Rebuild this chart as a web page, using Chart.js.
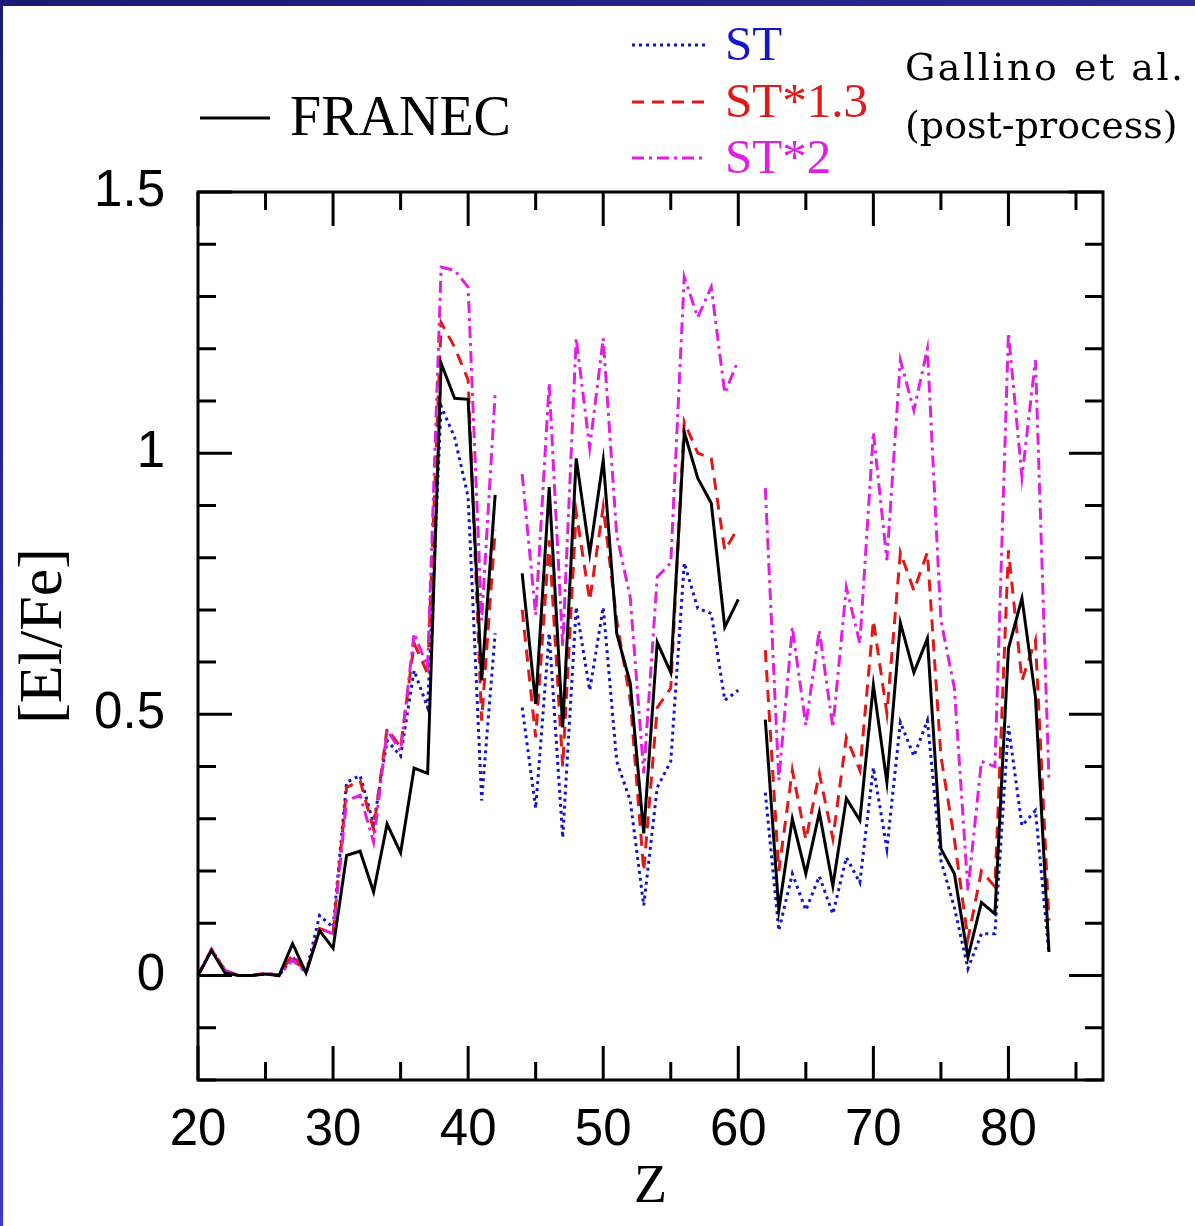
<!DOCTYPE html>
<html>
<head>
<meta charset="utf-8">
<script src="https://cdn.jsdelivr.net/npm/chart.js@4/dist/chart.umd.min.js"></script>
<style>
  html, body { margin: 0; padding: 0; background: #ffffff; }
  #wrap { position: relative; width: 1195px; height: 1226px; overflow: hidden; background: #fff; }
  #topbar { position: absolute; left: 0; top: 0; width: 1195px; height: 6px; background: linear-gradient(90deg, #1b1a72, #2a2a96); }
  #leftbar { position: absolute; left: 0; top: 0; width: 3px; height: 1226px; background: linear-gradient(180deg, #1b1a72, #3a38d6); }
  canvas { position: absolute; left: 0; top: 0; }
</style>
</head>
<body>
<div id="wrap">
  <canvas id="c" width="1195" height="1226"></canvas>
  <div id="topbar"></div>
  <div id="leftbar"></div>
</div>
<script>
// ---- data ----
const Z = [20,21,22,23,24,25,26,27,28,29,30,31,32,33,34,35,36,37,38,39,40,41,42,43,44,45,46,47,48,49,50,51,52,53,54,55,56,57,58,59,60,61,62,63,64,65,66,67,68,69,70,71,72,73,74,75,76,77,78,79,80,81,82,83];

const franec = [0,0.048,0.005,0,0,0.003,0,0.061,0.005,0.086,0.052,0.23,0.238,0.16,0.29,0.235,0.397,0.387,1.172,1.105,1.103,0.565,0.92,null,
  0.77,0.52,0.935,0.475,0.99,0.808,0.987,0.655,0.56,0.272,0.638,0.58,1.04,0.952,0.904,0.667,0.72,null,
  0.49,0.125,0.30,0.195,0.312,0.172,0.339,0.297,0.556,0.37,0.675,0.58,0.645,0.243,0.195,0.035,0.14,0.118,0.626,0.722,0.533,0.045];

const st = [0,0.05,0.01,0,0,0.003,0,0.035,0.005,0.115,0.092,0.37,0.383,0.29,0.45,0.42,0.584,0.513,1.09,1.03,0.916,0.335,0.655,null,
  0.513,0.32,0.655,0.264,0.705,0.546,0.705,0.41,0.335,0.134,0.36,0.41,0.79,0.703,0.693,0.527,0.546,null,
  0.35,0.086,0.195,0.125,0.19,0.118,0.226,0.178,0.398,0.243,0.485,0.42,0.488,0.22,0.13,0.013,0.08,0.08,0.478,0.287,0.316,0.042];

const st13 = [0,0.05,0.01,0,0,0.005,0,0.04,0.005,0.09,0.08,0.36,0.373,0.28,0.473,0.437,0.636,0.578,1.25,1.203,1.14,0.488,0.853,null,
  0.70,0.456,0.833,0.40,0.887,0.718,0.897,0.68,0.527,0.20,0.513,0.55,1.06,1.0,0.99,0.814,0.858,null,
  0.623,0.2,0.393,0.26,0.387,0.262,0.456,0.393,0.68,0.502,0.81,0.737,0.81,0.42,0.26,0.07,0.2,0.17,0.814,0.565,0.642,0.105];

const st2 = [0,0.05,0.01,0,0,0.005,0,0.03,0.005,0.09,0.08,0.335,0.345,0.255,0.47,0.43,0.655,0.59,1.356,1.35,1.318,0.68,1.115,null,
  0.96,0.69,1.134,0.63,1.22,1.01,1.22,0.843,0.724,0.387,0.763,0.79,1.337,1.26,1.318,1.115,1.178,null,
  0.933,0.374,0.667,0.479,0.661,0.475,0.743,0.636,1.04,0.795,1.178,1.082,1.2,0.68,0.55,0.163,0.41,0.40,1.23,0.954,1.178,0.374];

const xTickLabels = [20,30,40,50,60,70,80];
const yTickLabels = [0,0.5,1,1.5];

function pts(arr) { return Z.map((z, i) => ({ x: z, y: arr[i] })); }

// ---- plugin: frame, inward ticks, legend ----
const framePlugin = {
  id: 'frame',
  afterDatasetsDraw(chart) {
    const { ctx, chartArea: a, scales } = chart;
    const xs = scales.x, ys = scales.y;
    ctx.save();
    ctx.strokeStyle = '#000';
    ctx.lineWidth = 3;
    ctx.lineCap = 'butt';
    ctx.strokeRect(a.left, a.top, a.right - a.left, a.bottom - a.top);
    ctx.beginPath();
    for (let v = 20; v <= 85; v += 5) {
      const px = xs.getPixelForValue(v);
      const len = (v % 10 === 0) ? 34 : 18;
      ctx.moveTo(px, a.bottom); ctx.lineTo(px, a.bottom - len);
      ctx.moveTo(px, a.top); ctx.lineTo(px, a.top + len);
    }
    for (let k = -2; k <= 15; k++) {
      const v = k / 10;
      const py = ys.getPixelForValue(v);
      const len = (k % 5 === 0) ? 34 : 18;
      ctx.moveTo(a.left, py); ctx.lineTo(a.left + len, py);
      ctx.moveTo(a.right, py); ctx.lineTo(a.right - len, py);
    }
    ctx.stroke();
    ctx.restore();
  },
  afterDraw(chart) {
    const ctx = chart.ctx;
    ctx.save();
    ctx.textBaseline = 'middle';
    ctx.textAlign = 'left';
    // FRANEC
    ctx.strokeStyle = '#000'; ctx.lineWidth = 3; ctx.setLineDash([]);
    ctx.beginPath(); ctx.moveTo(200, 118); ctx.lineTo(270, 118); ctx.stroke();
    ctx.fillStyle = '#000';
    ctx.font = '56px "Liberation Serif"';
    ctx.fillText('FRANEC', 290, 120);
    // ST series
    const items = [
      { t: 'ST', c: '#1414c8', d: [3, 4], y: 45 },
      { t: 'ST*1.3', c: '#e01818', d: [12, 8], y: 102 },
      { t: 'ST*2', c: '#e020e0', d: [12, 5, 3, 5], y: 158 }
    ];
    ctx.font = '49px "Liberation Serif"';
    items.forEach(it => {
      ctx.strokeStyle = it.c; ctx.lineWidth = 3; ctx.setLineDash(it.d);
      ctx.beginPath(); ctx.moveTo(632, it.y); ctx.lineTo(705, it.y); ctx.stroke();
      ctx.fillStyle = it.c;
      ctx.fillText(it.t, 725, it.y + 2);
    });
    ctx.setLineDash([]);
    ctx.fillStyle = '#000';
    ctx.font = '38px "DejaVu Serif"';
    if ('letterSpacing' in ctx) ctx.letterSpacing = '2.5px';
    ctx.fillText('Gallino et al.', 905, 70);
    if ('letterSpacing' in ctx) ctx.letterSpacing = '0px';
    ctx.fillText('(post-process)', 905, 128);
    ctx.restore();
  }
};

const ctx = document.getElementById('c').getContext('2d');
new Chart(ctx, {
  type: 'line',
  data: {
    datasets: [
      { label: 'FRANEC', data: pts(franec), borderColor: '#000000', borderWidth: 3, pointRadius: 0, spanGaps: false, order: 0 },
      { label: 'ST', data: pts(st), borderColor: '#1414c8', borderWidth: 3, borderDash: [3, 4], pointRadius: 0, spanGaps: false, order: 3 },
      { label: 'ST*1.3', data: pts(st13), borderColor: '#e01818', borderWidth: 3, borderDash: [12, 8], pointRadius: 0, spanGaps: false, order: 2 },
      { label: 'ST*2', data: pts(st2), borderColor: '#e020e0', borderWidth: 3, borderDash: [12, 5, 3, 5], pointRadius: 0, spanGaps: false, order: 1 }
    ]
  },
  options: {
    responsive: false,
    animation: false,
    devicePixelRatio: 1,
    layout: { padding: { top: 192, right: 92, left: 0, bottom: 0 } },
    plugins: { legend: { display: false }, tooltip: { enabled: false } },
    elements: { line: { tension: 0, fill: false }, point: { radius: 0 } },
    scales: {
      x: {
        type: 'linear', min: 20, max: 87,
        grid: { display: false }, border: { display: false },
        ticks: {
          stepSize: 5, autoSkip: false, maxRotation: 0, padding: 12, color: '#000',
          font: { family: 'Liberation Sans', size: 51 },
          callback: v => xTickLabels.includes(Math.round(v)) && Math.abs(v - Math.round(v)) < 1e-6 ? String(Math.round(v)) : ''
        },
        title: { display: true, text: 'Z', color: '#000', font: { family: 'Liberation Serif', size: 54 }, padding: { top: 0, bottom: 6 } },
        afterFit: s => { s.height = 146; }
      },
      y: {
        type: 'linear', min: -0.2, max: 1.5,
        grid: { display: false }, border: { display: false },
        ticks: {
          stepSize: 0.1, autoSkip: false, padding: 25, color: '#000',
          font: { family: 'Liberation Sans', size: 51 },
          callback: v => {
            const r = Math.round(v * 10) / 10;
            const hit = yTickLabels.find(t => Math.abs(t - r) < 1e-6);
            return hit !== undefined ? String(hit) : '';
          }
        },
        title: { display: true, text: '[El/Fe]', color: '#000', font: { family: 'Liberation Serif', size: 62 }, padding: { top: 8, bottom: 0 } },
        afterFit: s => { s.width = 198; }
      }
    }
  },
  plugins: [framePlugin]
});
</script>
</body>
</html>
